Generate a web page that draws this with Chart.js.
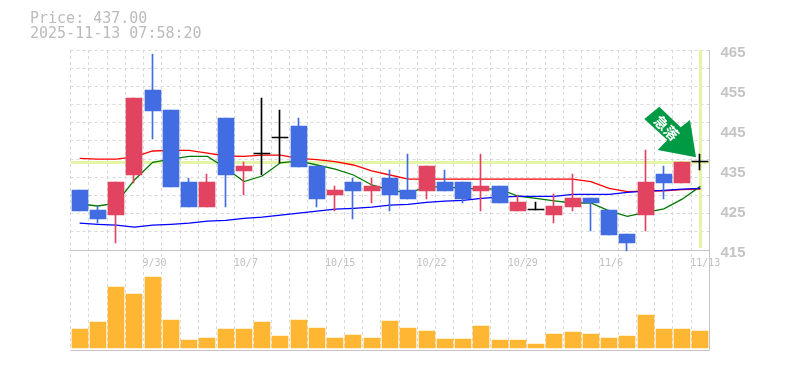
<!DOCTYPE html>
<html>
<head>
<meta charset="utf-8">
<title>Price chart</title>
<script src="https://cdn.jsdelivr.net/npm/chart.js@4"></script>
<style>
    html, body { margin: 0; padding: 0; background: #fff; }
    #wrap { position: relative; width: 785px; height: 370px; }
    #chart { position: absolute; left: 0; top: 0; }
    #info {
        position: absolute; left: 30px; top: 11px;
        font: 15px/15px "DejaVu Sans Mono", monospace;
        color: #bbb; white-space: pre;
    }
</style>
</head>
<body>
<div id="wrap">
    <canvas id="chart" width="785" height="370"></canvas>
    <div id="info">Price: 437.00
2025-11-13 07:58:20</div>
</div>
<script>
// daily candles, oldest first
const opens  = [430, 425, 423.75, 433.75, 455, 450, 432, 425.75, 448, 434.75, 439, 443, 446, 436, 428.75, 432, 429.75, 433, 430, 429.75, 432, 432, 429.75, 431, 424.75, 425, 423.75, 425.75, 428, 425, 419, 423.75, 434, 431.75, 437];
const closes = [424.75, 422.75, 432, 453, 449.75, 430.75, 425.75, 432, 433.75, 436, 439, 443, 435.75, 427.75, 430, 429.75, 431, 428.75, 427.75, 436, 429.75, 427.75, 431, 426.75, 427, 425, 426, 428, 426.75, 418.75, 416.75, 432, 431.75, 437, 437];
const highs  = [430, 426, 432, 453, 464, 450, 433, 434, 448, 437, 453, 450, 448, 436, 431, 433, 433, 435, 439, 436, 435, 432, 439, 431, 428.75, 427, 429, 434, 428, 425, 419, 440, 436, 437, 439];
const lows   = [424.75, 421.75, 416.75, 431.75, 442.75, 430.75, 425.75, 425.75, 425.75, 428.75, 433.75, 436.75, 435.75, 425.75, 424.75, 422.75, 426.75, 424.75, 427.75, 427.75, 429.75, 426.75, 424.75, 426.75, 424.75, 425, 421.75, 424.75, 419.75, 418.75, 414.75, 419.75, 427.75, 431.75, 435];

// moving averages
const maShort = [426.5, 426, 426.7, 432.5, 436.9, 437.7, 438.4, 438.4, 435.5, 432.1, 433.5, 436.8, 437.3, 436.25, 435.2, 433.75, 431.25, 430, 429.2, 430.8, 430.8, 430.4, 430.3, 430.2, 428.5, 427.9, 427.3, 426.75, 426.75, 424.8, 423.4, 424.4, 425.3, 427.7, 430.9];
const maMid   = [437.9, 437.7, 437.7, 438.3, 439.75, 439.9, 439.9, 439.2, 438.5, 438.4, 438.7, 438.7, 437.9, 437.6, 437.1, 436.25, 434.8, 433.75, 432.7, 432.7, 432.7, 432.7, 432.7, 432.7, 432.7, 432.7, 432.7, 432.7, 432.1, 430.4, 429.6, 429.7, 429.8, 430.1, 430.2];
const maLong  = [421.7, 421.4, 421.2, 420.7, 421.2, 421.4, 421.7, 422.2, 422.4, 422.9, 423.2, 423.7, 424.2, 424.7, 425.2, 425.4, 425.7, 426.2, 426.4, 426.9, 427.2, 427.4, 427.9, 428.2, 428.4, 428.4, 428.4, 428.9, 428.9, 428.9, 429.4, 429.7, 429.9, 430.2, 430.4];

const volumes = [19, 26, 61, 54, 71, 28, 8, 10, 19, 19, 26, 12, 28, 20, 10, 13, 10, 27, 20, 17, 9, 9, 22, 8, 8, 4, 14, 16, 14, 10, 12, 33, 19, 19, 17];

const dateLabels = { 4: '9/30', 9: '10/7', 14: '10/15', 19: '10/22', 24: '10/29', 29: '11/6', 34: '11/13' };
const priceTicks = [415, 425, 435, 445, 455, 465];
const lastPrice = 437;

const idx = opens.map((_, i) => i);
const candleColor = ctx => {
    const i = ctx.dataIndex;
    if (opens[i] === closes[i]) return '#000';
    return closes[i] > opens[i] ? '#e24361' : '#426de2';
};

// snap bars to whole pixels, the original has crisp edges
const snapPlugin = {
    id: 'snap',
    beforeDatasetsDraw(chart) {
        chart.data.datasets.forEach((ds, n) => {
            const meta = chart.getDatasetMeta(n);
            if (ds.type === 'bar') {
                meta.data.forEach(el => { el.x = Math.round(el.x) - (ds.wick ? 0.5 : 0); });
            }
            if (ds.highlight) {
                meta.data.forEach(el => {
                    if (ds.highlight === 'h') el.y = Math.round(el.y) + 0.5;
                    else el.x = Math.round(el.x) + 0.5;
                });
            }
        });
    }
};

// solid panel borders and the green arrow
const framePlugin = {
    id: 'frame',
    beforeDatasetsDraw(chart) {
        const { ctx, chartArea } = chart;
        const y = chart.scales.yPrice.getPixelForValue(415);
        ctx.save();
        ctx.strokeStyle = '#c4c4c4';
        ctx.lineWidth = 1;
        ctx.beginPath();
        ctx.moveTo(chartArea.left, y + 0.5);
        ctx.lineTo(chartArea.right, y + 0.5);
        ctx.moveTo(chartArea.left, chartArea.bottom + 0.5);
        ctx.lineTo(chartArea.right, chartArea.bottom + 0.5);
        ctx.moveTo(chartArea.right, chartArea.top);
        ctx.lineTo(chartArea.right, chartArea.bottom);
        ctx.stroke();
        ctx.restore();
    },
    afterDraw(chart) {
        const { ctx } = chart;
        ctx.save();
        ctx.fillStyle = '#009a44';
        ctx.beginPath();
        ctx.moveTo(659.3, 106.7);
        ctx.lineTo(644.3, 119);
        ctx.lineTo(667.3, 140);
        ctx.lineTo(657.7, 150);
        ctx.lineTo(696, 157.3);
        ctx.lineTo(690, 120);
        ctx.lineTo(680.7, 127.3);
        ctx.closePath();
        ctx.fill();
        ctx.translate(666.5, 128);
        ctx.rotate(Math.PI / 4);
        ctx.fillStyle = '#fff';
        ctx.font = 'bold 14px "Noto Sans CJK JP"';
        ctx.textAlign = 'center';
        ctx.textBaseline = 'middle';
        ctx.fillText('急落', 0, 0);
        ctx.restore();
    }
};

new Chart(document.getElementById('chart'), {
    data: {
        datasets: [
            { type: 'line', highlight: 'h', data: [{ x: -0.5, y: lastPrice }, { x: 34.5, y: lastPrice }], yAxisID: 'yPrice', borderColor: '#e4f5a8', borderWidth: 3, pointRadius: 0, order: 9 },
            { type: 'line', highlight: 'v', data: [{ x: 34, y: 465 }, { x: 34, y: 415.5 }], yAxisID: 'yPrice', borderColor: '#e4f5a8', borderWidth: 3, pointRadius: 0, order: 9 },
            { type: 'line', data: idx.map(i => ({ x: i, y: maMid[i] })), yAxisID: 'yPrice', borderColor: '#f00', borderWidth: 1.3, pointRadius: 0, order: 8 },
            { type: 'line', data: idx.map(i => ({ x: i, y: maShort[i] })), yAxisID: 'yPrice', borderColor: '#007a00', borderWidth: 1.3, pointRadius: 0, order: 7 },
            { type: 'line', data: idx.map(i => ({ x: i, y: maLong[i] })), yAxisID: 'yPrice', borderColor: '#00f', borderWidth: 1.3, pointRadius: 0, order: 6 },
            { type: 'bar', wick: true, data: idx.map(i => ({ x: i, y: [lows[i], highs[i]] })), yAxisID: 'yPrice', backgroundColor: candleColor, barThickness: 1, grouped: false, order: 5 },
            { type: 'bar', data: idx.map(i => ({ x: i, y: [opens[i], closes[i]] })), yAxisID: 'yPrice', backgroundColor: candleColor, barThickness: 16, minBarLength: 1, grouped: false, order: 4 },
            { type: 'bar', data: idx.map(i => ({ x: i, y: volumes[i] })), yAxisID: 'yVol', backgroundColor: '#ffb733', barThickness: 16, grouped: false, order: 3 }
        ]
    },
    options: {
        responsive: false,
        animation: false,
        layout: { padding: { left: 70.5, top: 50, right: 0, bottom: 20 } },
        plugins: { legend: { display: false }, tooltip: { enabled: false } },
        scales: {
            x: {
                type: 'linear',
                position: { yPrice: 415 },
                offset: false,
                min: -0.5,
                max: 34.5,
                afterBuildTicks: axis => {
                    axis.ticks = [-1, ...idx].map(i => ({ value: i + 0.5 }));
                },
                grid: { color: '#d8d8d8', drawTicks: false, offset: false },
                border: { display: false, dash: [3, 3] },
                ticks: {
                    autoSkip: false,
                    maxRotation: 0,
                    align: 'start',
                    labelOffset: -1,
                    padding: 7,
                    color: '#c0c0c0',
                    font: { family: '"DejaVu Sans Mono", monospace', size: 10 },
                    callback: v => dateLabels[v + 0.5] || ''
                }
            },
            yPrice: {
                position: 'right',
                min: 390,
                max: 465,
                afterBuildTicks: axis => {
                    axis.ticks = priceTicks.map(v => ({ value: v }));
                },
                afterFit: axis => { axis.width = 75.5; },
                grid: { display: false },
                border: { display: false },
                ticks: {
                    autoSkip: false,
                    crossAlign: 'near',
                    labelOffset: 3,
                    padding: 3,
                    color: '#c4c4c4',
                    font: { family: '"Liberation Sans", sans-serif', size: 15, weight: 'bold' }
                }
            },
            // horizontal dashes, 11 rows over the price panel
            yGrid: {
                position: 'right',
                min: -5.5,
                max: 11,
                afterBuildTicks: axis => {
                    axis.ticks = [0, 1, 2, 3, 4, 5, 6, 7, 8, 9, 10, 11].map(v => ({ value: v }));
                },
                afterFit: axis => { axis.width = 0; },
                grid: { color: '#d8d8d8', drawTicks: false },
                border: { display: false, dash: [3, 3] },
                ticks: { display: false }
            },
            yVol: {
                display: false,
                position: 'right',
                min: -2,
                max: 298
            }
        }
    },
    plugins: [snapPlugin, framePlugin]
});
</script>
</body>
</html>
